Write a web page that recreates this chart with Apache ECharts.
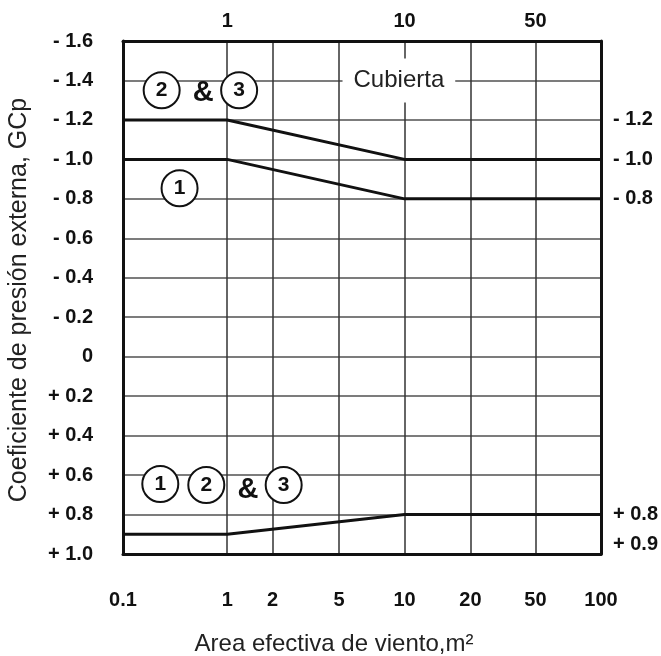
<!DOCTYPE html>
<html>
<head>
<meta charset="utf-8">
<script src="https://cdn.jsdelivr.net/npm/echarts@6/dist/echarts.min.js"></script>
<style>html,body{margin:0;padding:0;background:#fff}#c{width:661px;height:656px}</style>
</head>
<body>
<div id="c"></div>
<script>
// ---- data ----
const xTickValues = [0.1, 1, 2, 5, 10, 20, 50, 100];
const xTickLabels = ['0.1', '1', '2', '5', '10', '20', '50', '100'];
const xTopValues = [1, 10, 50];
const yRightValues = [-1.2, -1.0, -0.8, 0.8];
const yRightExtra = [0.9];
const areaX = [0.1, 1, 10, 100];
const gcpZone23 = [-1.2, -1.2, -1.0, -1.0];
const gcpZone1 = [-1.0, -1.0, -0.8, -0.8];
const gcpPositive = [0.9, 0.9, 0.8, 0.8];
// annotation labels and their data positions (area, GCp)
const circleLabels = ['2', '3', '1', '1', '2', '3'];
const circleArea = [0.235, 1.2, 0.349, 0.228, 0.63, 2.33];
const circleGcp = [-1.35, -1.35, -0.854, 0.645, 0.65, 0.65];
const ampArea = [0.59, 1.373];
const ampGcp = [-1.335, 0.675];
const roofLabel = 'Cubierta';
const roofArea = [9.42];
const roofGcp = [-1.4];

// ---- axis scale (piecewise log between the drawn x breakpoints) ----
const xBreakFrac = [0, 0.218, 0.313, 0.452, 0.589, 0.727, 0.863, 1];
function xScale(v) {
  for (let i = 0; i < xTickValues.length - 1; i++) {
    const a = xTickValues[i], b = xTickValues[i + 1];
    if (v <= b || i === xTickValues.length - 2) {
      const t = Math.log(v / a) / Math.log(b / a);
      return xBreakFrac[i] + t * (xBreakFrac[i + 1] - xBreakFrac[i]);
    }
  }
}
function xLabel(u) {
  for (let i = 0; i < xBreakFrac.length; i++) {
    if (Math.abs(xBreakFrac[i] - u) < 1e-6) return xTickLabels[i];
  }
  return '';
}
function yFmt(v) {
  if (Math.abs(v) < 1e-9) return '0';
  return (v < 0 ? '- ' : '+ ') + Math.abs(v).toFixed(1);
}
const FONT = '"Liberation Sans", Arial, sans-serif';
const lineSeries = (vals) => ({
  type: 'line', xAxisIndex: 0, yAxisIndex: 0, silent: true, z: 5,
  symbol: 'none', lineStyle: { color: '#111', width: 3 },
  data: areaX.map((x, i) => [xScale(x), vals[i]])
});
const axisLineStyle = { show: true, onZero: false, lineStyle: { color: '#111', width: 3 } };
const rightLabelStyle = { formatter: yFmt, margin: 12, hideOverlap: false,
  fontFamily: FONT, fontWeight: 'bold', fontSize: 20, color: '#111' };

const chart = echarts.init(document.getElementById('c'), null, { renderer: 'canvas' });
chart.setOption({
  animation: false,
  backgroundColor: '#fff',
  grid: { left: 123, right: 56, top: 41, bottom: 102 },
  xAxis: [{
    type: 'value', position: 'bottom', min: 0, max: 1,
    axisLine: axisLineStyle,
    axisTick: { show: false, customValues: xBreakFrac },
    axisLabel: { customValues: xBreakFrac, formatter: xLabel, margin: 36,
      fontFamily: FONT, fontWeight: 'bold', fontSize: 20, color: '#111' },
    splitLine: { show: true, lineStyle: { color: '#333', width: 1.5 } }
  }, {
    type: 'value', position: 'top', min: 0, max: 1,
    axisLine: axisLineStyle,
    axisTick: { show: false },
    axisLabel: { customValues: xTopValues.map(xScale),
      formatter: (u) => { const i = xTopValues.findIndex(v => Math.abs(xScale(v) - u) < 1e-6); return i >= 0 ? String(xTopValues[i]) : ''; },
      margin: 10, fontFamily: FONT, fontWeight: 'bold', fontSize: 20, color: '#111' },
    splitLine: { show: false }
  }],
  yAxis: [{
    type: 'value', position: 'left', inverse: true, min: -1.6, max: 1.0, interval: 0.2,
    axisLine: axisLineStyle,
    axisTick: { show: false },
    axisLabel: { formatter: yFmt, margin: 30, fontFamily: FONT, fontWeight: 'bold', fontSize: 20, color: '#111' },
    splitLine: { show: true, lineStyle: { color: '#505050', width: 1.5 } }
  }, {
    type: 'value', position: 'right', offset: 0, inverse: true, min: -1.6, max: 1.0, interval: 0.2,
    axisLine: axisLineStyle,
    axisTick: { show: false },
    axisLabel: Object.assign({ customValues: yRightValues }, rightLabelStyle),
    splitLine: { show: false }
  }, {
    type: 'value', position: 'right', offset: 0, inverse: true, min: -1.6, max: 1.0, interval: 0.2,
    axisLine: { show: false },
    axisTick: { show: false },
    axisLabel: Object.assign({ customValues: yRightExtra, verticalAlign: 'top' }, rightLabelStyle),
    splitLine: { show: false }
  }],
  series: [
    lineSeries(gcpZone23),
    lineSeries(gcpZone1),
    lineSeries(gcpPositive),
    {
      type: 'scatter', silent: true, z: 6, symbol: 'circle', symbolSize: 36,
      itemStyle: { color: '#fff', borderColor: '#111', borderWidth: 2, opacity: 1 },
      label: { show: true, position: 'inside', formatter: (p) => p.data[2], opacity: 1,
        fontFamily: FONT, fontWeight: 'bold', fontSize: 21, color: '#111' },
      data: circleLabels.map((t, i) => [xScale(circleArea[i]), circleGcp[i], t])
    },
    {
      type: 'scatter', silent: true, z: 6, symbol: 'circle', symbolSize: 1,
      itemStyle: { color: 'rgba(0,0,0,0)', opacity: 1 },
      label: { show: true, position: 'inside', formatter: '&', opacity: 1,
        fontFamily: FONT, fontWeight: 'bold', fontSize: 29, color: '#111' },
      data: ampArea.map((a, i) => [xScale(a), ampGcp[i]])
    },
    {
      type: 'scatter', silent: true, z: 6, symbol: 'circle', symbolSize: 1,
      itemStyle: { color: 'rgba(0,0,0,0)', opacity: 1 },
      label: { show: true, position: 'inside', formatter: roofLabel, opacity: 1,
        backgroundColor: '#fff', padding: [10, 11],
        fontFamily: FONT, fontSize: 24, color: '#222' },
      data: roofArea.map((a, i) => [xScale(a), roofGcp[i]])
    }
  ],
  graphic: [{
    type: 'text', x: 19, y: 300, rotation: Math.PI / 2,
    style: { text: 'Coeficiente de presión externa, GCp', font: '25px ' + FONT,
      textAlign: 'center', textVerticalAlign: 'middle', fill: '#222' }
  }, {
    type: 'text', x: 334, y: 644,
    style: { text: 'Area efectiva de viento,m²', font: '24px ' + FONT,
      textAlign: 'center', textVerticalAlign: 'middle', fill: '#222' }
  }]
});
</script>
</body>
</html>
